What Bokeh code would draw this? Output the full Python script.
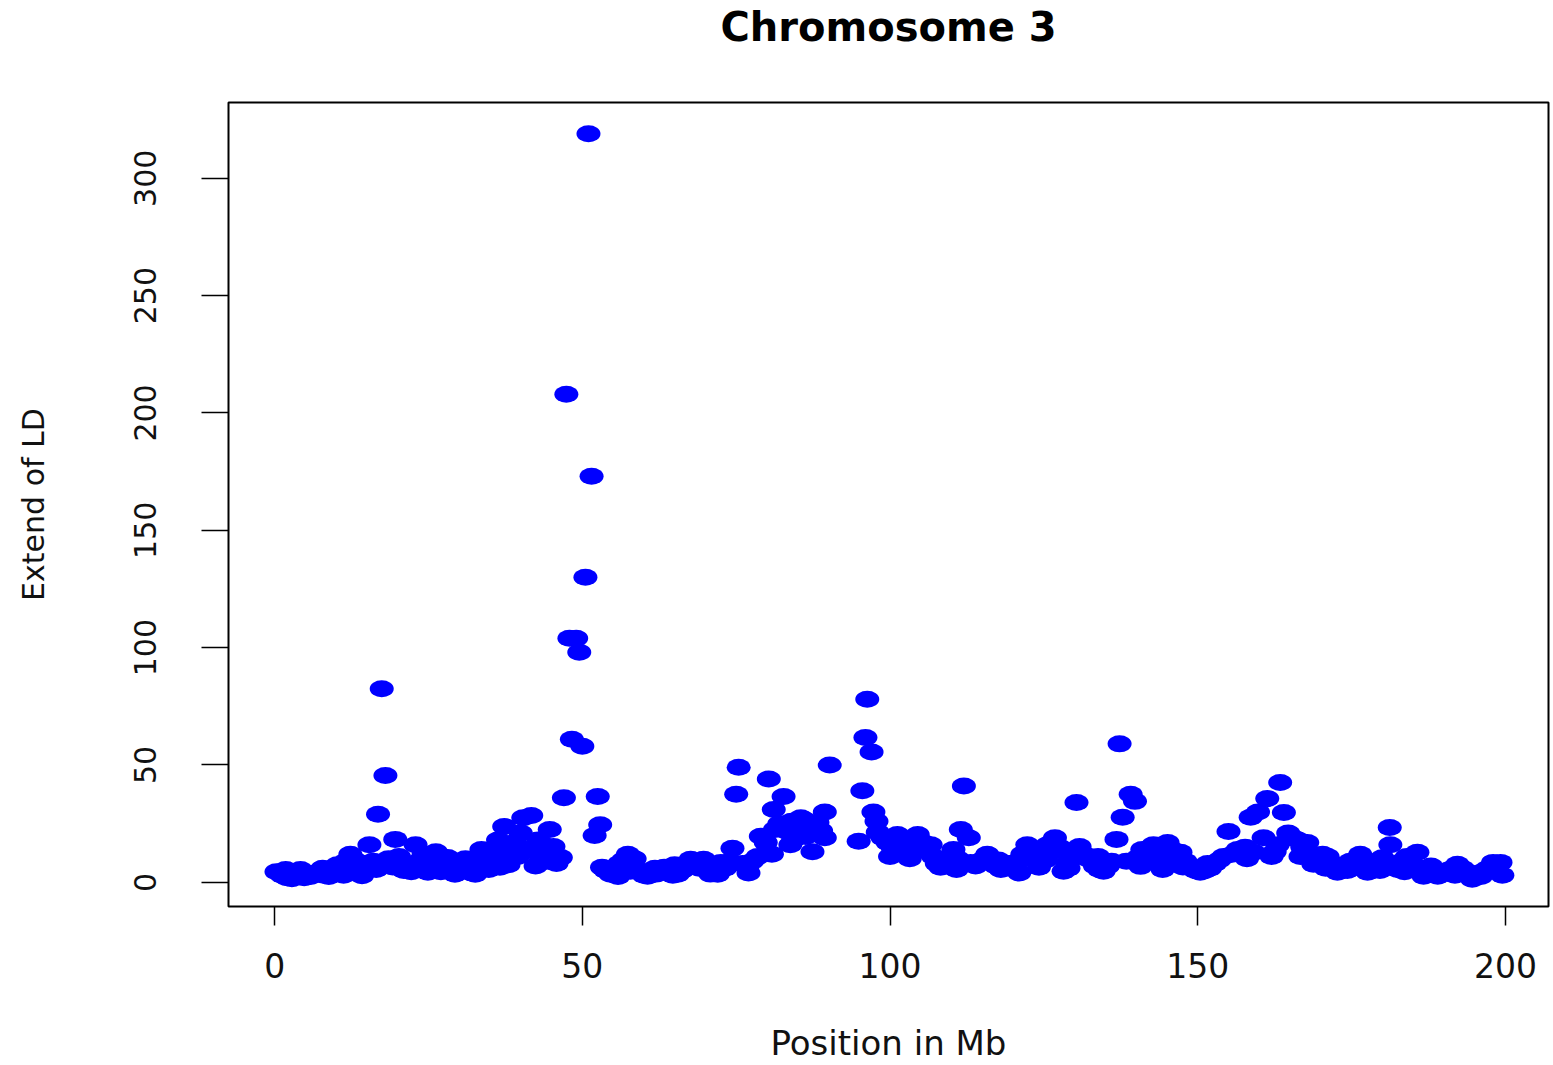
from bokeh.plotting import figure
from bokeh.models import Range1d, FixedTicker, ColumnDataSource
from bokeh.layouts import column
from bokeh.core.properties import value
from bokeh.embed import file_html
from bokeh.resources import INLINE

title_text = "Chromosome 3"
x_label = "Position in Mb"
y_label = "Extend of LD"
x_ticks = [0, 50, 100, 150, 200]
y_ticks = [0, 50, 100, 150, 200, 250, 300]

position_mb = [
    0.3, 1.2, 2.0, 2.8, 3.6, 4.2, 5.0, 5.8, 6.6, 7.3, 8.0, 8.8, 9.5, 10.2, 10.9, 11.6, 12.3, 12.8,
    13.5, 14.2, 14.8, 15.4, 16.0, 16.5, 16.8, 17.4, 18.0, 18.5, 19.2, 19.6, 20.2, 20.8, 21.5, 22.2,
    22.9, 23.5, 24.2, 24.9, 25.5, 26.2, 26.9, 27.6, 28.1, 28.8, 29.3, 30.0, 30.7, 31.4, 32.0, 32.6,
    33.2, 33.6, 34.3, 35.0, 35.7, 36.3, 36.6, 37.3, 37.8, 38.4, 39.0, 39.5, 40.0, 40.4, 41.0, 41.7,
    42.4, 43.0, 43.6, 44.2, 44.7, 45.3, 45.8, 46.5, 47.0, 47.4, 47.9, 48.3, 49.0, 49.5, 50.0, 50.5,
    51.0, 51.5, 52.0, 52.5, 52.9, 53.2, 53.8, 54.6, 55.3, 56.0, 56.7, 57.4, 57.8, 58.5, 59.2, 60.0,
    60.6, 61.3, 62.0, 62.7, 63.3, 64.0, 64.7, 65.5, 66.2, 66.9, 67.6, 68.3, 69.0, 69.7, 70.4, 71.2,
    72.0, 72.5, 73.2, 74.0, 74.4, 75.0, 75.4, 76.0, 76.8, 77.6, 78.5, 79.0, 79.8, 80.3, 81.1, 81.3,
    82.0, 82.7, 83.3, 84.0, 84.3, 85.0, 85.5, 86.0, 86.7, 87.4, 88.2, 88.8, 89.4, 89.4, 90.2, 94.9,
    95.5, 96.0, 96.3, 97.0, 97.3, 97.8, 98.0, 98.8, 99.6, 100.4, 101.2, 102.0, 102.8, 103.6, 104.5,
    105.4, 106.2, 107.0, 107.6, 108.2, 109.0, 109.7, 110.3, 111.0, 111.5, 112.0, 112.8, 113.1, 113.9,
    114.6, 115.3, 115.8, 116.5, 117.2, 118.0, 118.8, 119.4, 120.0, 120.8, 121.5, 122.3, 123.0, 123.6,
    124.2, 124.9, 125.6, 126.3, 126.8, 127.5, 128.2, 128.8, 129.5, 130.3, 130.8, 131.5, 132.1, 132.6,
    133.3, 134.0, 134.7, 135.4, 136.0, 136.8, 137.3, 137.8, 138.4, 139.1, 139.8, 140.3, 140.7, 141.5,
    142.2, 142.8, 143.5, 144.3, 145.1, 145.8, 146.5, 147.2, 148.0, 148.8, 149.6, 150.4, 151.2, 152.0,
    152.8, 153.5, 154.2, 155.0, 155.6, 156.5, 157.3, 158.0, 158.6, 159.1, 159.8, 160.7, 161.3, 162.0,
    162.5, 163.4, 164.0, 164.7, 165.5, 166.3, 167.0, 167.8, 168.8, 169.5, 170.3, 171.1, 171.9, 172.7,
    173.5, 174.3, 175.2, 176.0, 176.4, 177.6, 178.4, 179.2, 180.0, 180.6, 181.2, 181.3, 182.5, 183.2,
    184.0, 184.8, 185.7, 186.7, 187.5, 188.3, 189.0, 189.8, 190.6, 191.4, 192.2, 193.0, 193.8, 194.6,
    195.4, 196.4, 197.2, 198.0, 199.2, 199.5,
    1.8, 4.8, 7.8, 11.2, 13.0, 21.0, 27.0, 31.0, 34.8, 38.0, 42.8, 55.8, 61.8, 65.0, 70.8, 77.0,
    80.8, 83.8, 86.3, 100.0, 103.2, 106.6, 110.8, 117.6, 121.0, 125.3, 129.0, 133.8, 141.0, 144.8,
    147.6, 151.6, 157.7, 163.0, 166.7, 170.8, 174.8, 179.6, 183.6, 187.9, 191.8, 196.0,
]

ld_extent = [
    4.5, 3.0, 2.0, 1.5, 3.0, 5.5, 3.5, 2.5, 4.0, 4.5, 3.0, 2.5, 6.0, 7.5, 4.0, 9.0, 12.0, 6.5,
    4.0, 2.8, 8.0, 16.0, 9.0, 5.5, 29.0, 82.5, 45.5, 10.0, 6.5, 18.3, 11.0, 8.0, 6.0, 4.5,
    16.0, 9.0, 12.0, 4.3, 7.0, 13.0, 11.0, 8.0, 10.6, 6.0, 3.4, 5.0, 8.0, 6.0, 4.0, 3.4,
    9.0, 14.0, 11.0, 8.0, 13.0, 18.0, 6.4, 23.8, 15.0, 10.0, 17.0, 11.0, 21.0, 27.5, 14.0, 28.5,
    7.0, 12.0, 16.0, 9.0, 22.5, 15.3, 8.0, 10.6, 36.0, 208.0, 104.0, 61.0, 104.0, 98.0, 58.0, 130.0,
    319.0, 173.0, 20.0, 36.6, 24.5, 6.4, 5.0, 3.4, 5.0, 8.0, 9.5, 12.0, 4.7, 10.0, 5.0, 3.0,
    2.6, 4.0, 3.5, 5.0, 6.4, 4.0, 3.0, 3.4, 5.0, 7.0, 9.8, 8.0, 6.0, 9.8, 8.0, 5.0,
    3.4, 8.5, 6.0, 9.0, 14.5, 37.5, 49.0, 8.0, 6.4, 9.0, 11.0, 19.6, 17.0, 44.0, 31.0, 22.5,
    25.0, 36.6, 21.7, 26.0, 18.3, 23.0, 27.5, 26.8, 22.0, 13.0, 25.5, 22.0, 30.0, 19.0, 50.0, 17.5,
    39.0, 61.7, 78.0, 55.5, 30.0, 26.0, 21.3, 19.0, 17.0, 15.0, 20.4, 17.0, 14.0, 18.0, 20.4,
    17.0, 13.0, 11.0, 8.0, 6.4, 7.0, 9.0, 14.0, 10.0, 22.5, 41.0, 19.0, 8.5, 7.0,
    9.0, 10.0, 12.0, 9.0, 7.0, 5.5, 6.0, 8.0, 6.8, 9.0, 12.0, 16.0, 14.0, 10.0,
    6.4, 12.0, 16.0, 13.0, 19.0, 15.0, 4.7, 8.0, 12.0, 34.0, 15.3, 12.0, 10.0, 9.8,
    7.0, 5.5, 4.7, 7.0, 9.0, 18.3, 59.0, 27.7, 9.0, 37.5, 34.5, 10.6, 6.8, 9.0,
    12.0, 16.0, 13.0, 5.5, 17.0, 14.0, 10.0, 12.8, 9.0, 7.0, 5.0, 4.3, 5.0, 6.0,
    8.0, 9.5, 11.0, 21.7, 12.0, 14.0, 12.0, 10.0, 27.7, 12.8, 30.0, 19.0, 35.7, 11.0,
    13.0, 42.5, 29.8, 21.0, 19.0, 18.0, 15.0, 17.0, 7.7, 10.0, 12.0, 11.0, 8.0, 4.3,
    6.0, 5.0, 8.0, 10.0, 12.0, 4.3, 7.0, 9.0, 10.5, 8.0, 23.4, 16.0, 5.5, 9.0,
    11.0, 8.0, 12.8, 2.6, 3.5, 4.0, 2.6, 4.0, 5.0, 6.0, 7.7, 6.0, 4.5, 1.3,
    3.0, 4.7, 6.0, 8.5, 8.5, 3.0,
    5.5, 2.0, 6.0, 3.0, 9.5, 5.0, 4.5, 10.0, 5.5, 7.5, 18.0, 2.5, 6.0, 7.5, 3.5, 4.0,
    12.0, 16.0, 19.5, 11.0, 10.0, 16.0, 5.5, 9.5, 4.0, 9.5, 6.0, 11.0, 14.0, 8.0,
    6.5, 8.0, 15.0, 16.0, 11.0, 6.0, 9.0, 5.0, 4.5, 7.0, 3.0, 2.5,
]

source = ColumnDataSource(data=dict(x=position_mb, y=ld_extent))

FONT = "DejaVu Sans"
TITLE_H = 90
X_LO, X_HI = -7.5, 207.0
Y_LO, Y_HI = -10.3, 332.3

x_range = Range1d(X_LO, X_HI)

# --- title strip: shares the x range, and the column aligns its frame with the main plot frame ---
t = figure(
    width=1553, height=TITLE_H, output_backend="svg", toolbar_location=None,
    x_range=x_range, y_range=Range1d(0, TITLE_H),
    x_axis_location=None, y_axis_location=None,
    min_border_left=228, min_border_right=5, min_border_top=0, min_border_bottom=0,
    outline_line_color=None,
    background_fill_color="white", border_fill_color="white",
)
t.grid.visible = False
t.text(x=[(X_LO + X_HI) / 2], y=[TITLE_H - 26], text=[title_text],
       text_align="center", text_baseline="middle",
       text_font=value(FONT), text_font_size="40px", text_font_style="bold", text_color="black")

# --- main plot ---
p = figure(
    width=1553, height=1065 - TITLE_H,
    output_backend="svg", toolbar_location=None,
    x_range=x_range, y_range=Range1d(Y_LO, Y_HI),
    min_border_left=228, min_border_right=5, min_border_top=102 - TITLE_H, min_border_bottom=158,
    background_fill_color="white", border_fill_color="white",
)

p.grid.visible = False
p.outline_line_color = "black"
p.outline_line_width = 2

for ax in (p.xaxis[0], p.yaxis[0]):
    ax.axis_line_color = None
    ax.major_tick_in = 0
    ax.minor_tick_in = 0
    ax.minor_tick_out = 0
    ax.major_tick_line_color = "black"
    ax.major_tick_line_width = 1.5
    ax.major_label_text_font = FONT
    ax.major_label_text_color = "#111111"
    ax.axis_label_text_font = FONT
    ax.axis_label_text_font_style = "normal"
    ax.axis_label_text_color = "#111111"

p.xaxis.ticker = FixedTicker(ticks=x_ticks)
p.xaxis.axis_label = x_label
p.xaxis.major_tick_out = 19
p.xaxis.major_label_text_font_size = "33px"
p.xaxis.major_label_standoff = 27
p.xaxis.axis_label_text_font_size = "34px"
p.xaxis.axis_label_standoff = 42

p.yaxis.ticker = FixedTicker(ticks=y_ticks)
p.yaxis.axis_label = y_label
p.yaxis.major_tick_out = 27
p.yaxis.major_label_orientation = "vertical"
p.yaxis.major_label_text_font_size = "30px"
p.yaxis.major_label_standoff = 45
p.yaxis.axis_label_text_font_size = "30px"
p.yaxis.axis_label_standoff = 81

p.ellipse(x="x", y="y", width=24, height=17, width_units="screen", height_units="screen",
          source=source, fill_color="#0000FF", line_color=None)

layout = column(t, p, spacing=0)
open("out.html", "w").write(file_html(layout, INLINE))
